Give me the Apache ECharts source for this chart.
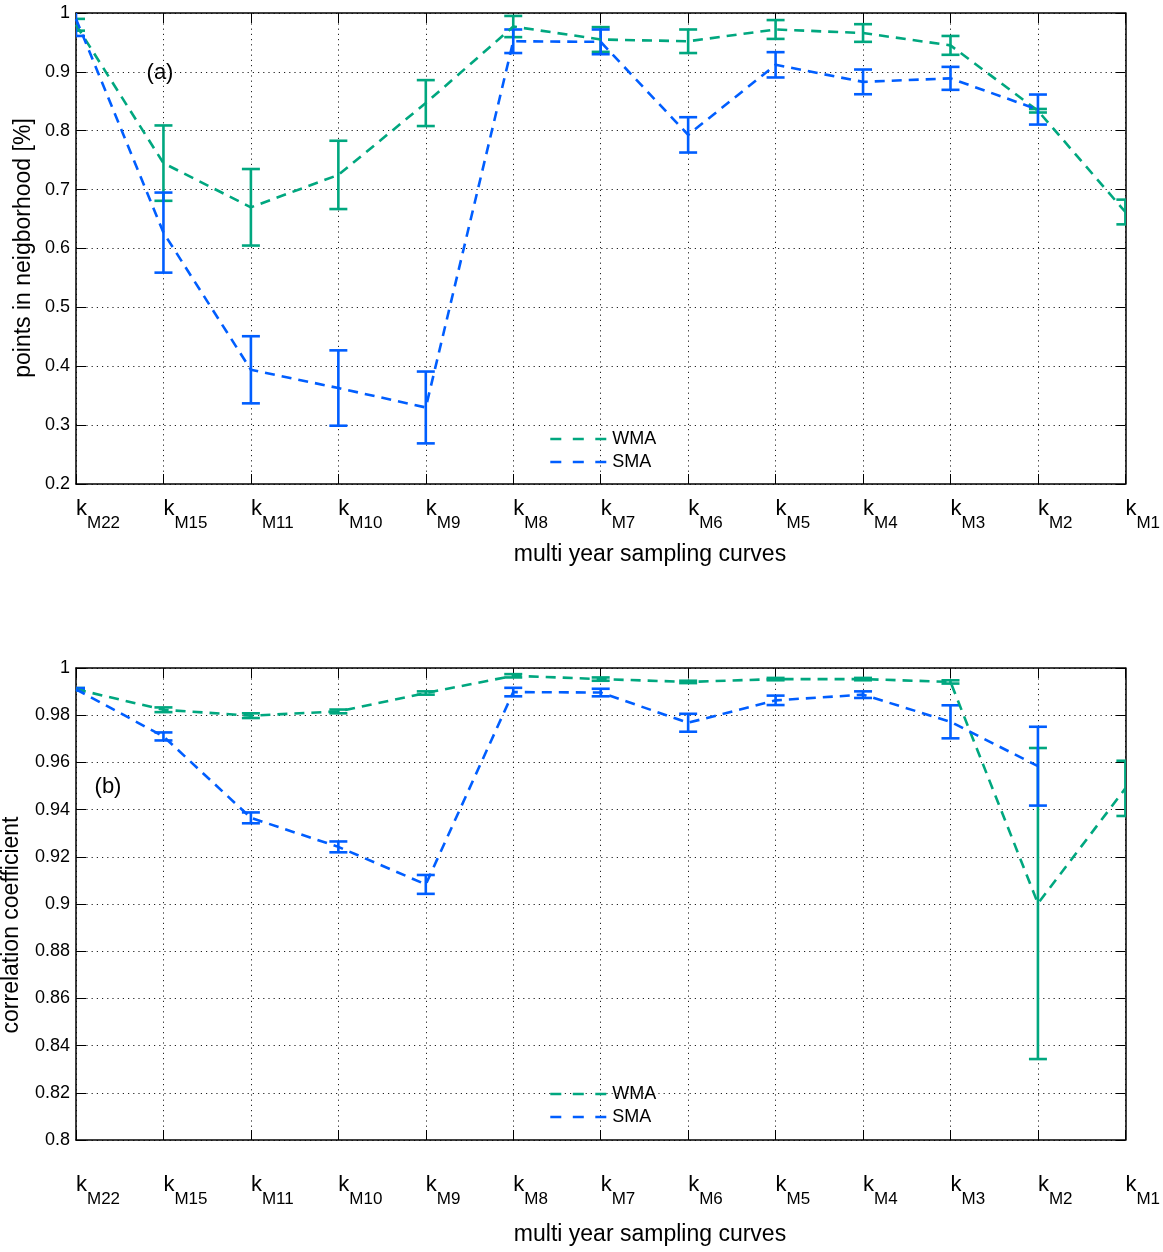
<!DOCTYPE html>
<html>
<head>
<meta charset="utf-8">
<script src="https://cdn.jsdelivr.net/npm/echarts@6/dist/echarts.min.js"></script>
<style>
  html, body { margin: 0; padding: 0; background: #fff; }
  #chart { width: 1163px; height: 1252px; }
</style>
</head>
<body>
<div id="chart"></div>
<script>
// Sampling curves along the x axis: "k" with these subscripts
const curveSubscripts = ['M22', 'M15', 'M11', 'M10', 'M9', 'M8', 'M7', 'M6', 'M5', 'M4', 'M3', 'M2', 'M1'];

// (a) share of points in neighborhood: mean and half-width of the error bar
const wmaNeighborMean = [0.980, 0.745, 0.670, 0.725, 0.847, 0.977, 0.955, 0.952, 0.972, 0.966, 0.945, 0.834, 0.662];
const wmaNeighborErr  = [0.010, 0.064, 0.065, 0.058, 0.039, 0.018, 0.021, 0.020, 0.016, 0.015, 0.016, 0.003, 0.021];
const smaNeighborMean = [0.990, 0.627, 0.394, 0.363, 0.330, 0.952, 0.951, 0.793, 0.912, 0.883, 0.889, 0.836, null];
const smaNeighborErr  = [0.029, 0.068, 0.057, 0.064, 0.061, 0.020, 0.021, 0.030, 0.0215, 0.021, 0.0195, 0.0255, null];

// (b) correlation coefficient: mean and half-width of the error bar
const wmaCorrMean = [0.991, 0.9823, 0.9798, 0.9816, 0.9894, 0.9967, 0.9953, 0.9941, 0.9953, 0.9953, 0.9941, 0.9002, 0.949];
const wmaCorrErr  = [0.0005, 0.001, 0.001, 0.0008, 0.0007, 0.0007, 0.0007, 0.0005, 0.0005, 0.0005, 0.0007, 0.0659, 0.0117];
const smaCorrMean = [0.991, 0.971, 0.9365, 0.9242, 0.9083, 0.9898, 0.9896, 0.9768, 0.9863, 0.9887, 0.9772, 0.9584, null];
const smaCorrErr  = [0.0005, 0.0017, 0.0023, 0.0023, 0.004, 0.0018, 0.0016, 0.0038, 0.002, 0.0014, 0.007, 0.0167, null];

const GREEN = '#00a77f';
const BLUE = '#005eff';
const FONT = '"Liberation Sans", Arial, Helvetica, sans-serif';

function errorBarData(mean, err) {
  const out = [];
  mean.forEach(function (m, i) {
    if (m == null) return;
    out.push([i, m - err[i], m + err[i]]);
  });
  return out;
}

function renderErrorBar(params, api) {
  const x = api.value(0);
  const lo = api.coord([x, api.value(1)]);
  const hi = api.coord([x, api.value(2)]);
  const half = 9;
  const style = { stroke: api.visual('color'), lineWidth: 2.6, fill: null };
  return {
    type: 'group',
    children: [
      { type: 'line', shape: { x1: hi[0], y1: hi[1], x2: lo[0], y2: lo[1] }, style: style },
      { type: 'line', shape: { x1: hi[0] - half, y1: hi[1], x2: hi[0] + half, y2: hi[1] }, style: style },
      { type: 'line', shape: { x1: lo[0] - half, y1: lo[1], x2: lo[0] + half, y2: lo[1] }, style: style }
    ]
  };
}

function lineSeries(name, color, data, idx) {
  return {
    name: name, type: 'line', xAxisIndex: idx, yAxisIndex: idx,
    data: data, symbol: 'none', connectNulls: false, clip: true,
    lineStyle: { color: color, width: 2.6, type: [10, 7] },
    itemStyle: { color: color }
  };
}

function barSeries(name, color, mean, err, idx) {
  return {
    name: name, type: 'custom', xAxisIndex: idx, yAxisIndex: idx,
    data: errorBarData(mean, err), renderItem: renderErrorBar, clip: true,
    encode: { x: 0, y: [1, 2] },
    itemStyle: { color: color }
  };
}

const numFmt = function (v) { return String(+v.toFixed(2)); };

function bottomXAxis(gridIndex, margin) {
  return {
    type: 'category', gridIndex: gridIndex, position: 'bottom',
    data: curveSubscripts, boundaryGap: false,
    axisLine: { lineStyle: { color: '#000', width: 1.5 } },
    axisTick: { inside: true, length: 10, alignWithLabel: true, lineStyle: { color: '#000', width: 1 } },
    axisLabel: {
      interval: 0, hideOverlap: false, margin: margin, align: 'left', color: '#000',
      formatter: function (v) { return '{k|k}{s|' + v + '}'; },
      rich: {
        k: { fontFamily: FONT, fontSize: 22, lineHeight: 22, verticalAlign: 'top', color: '#000' },
        s: { fontFamily: FONT, fontSize: 17, lineHeight: 17, verticalAlign: 'top', padding: [17, 0, 0, 0], color: '#000' }
      }
    },
    splitLine: { show: true, lineStyle: { color: '#222', width: 1, type: [1.2, 4] } }
  };
}

function topXAxis(gridIndex) {
  return {
    type: 'category', gridIndex: gridIndex, position: 'top',
    data: curveSubscripts, boundaryGap: false,
    axisLine: { lineStyle: { color: '#000', width: 1.5 } },
    axisTick: { inside: true, length: 10, lineStyle: { color: '#000', width: 1 } },
    axisLabel: { show: false }, splitLine: { show: false }
  };
}

function leftYAxis(gridIndex, min, max, interval) {
  return {
    type: 'value', gridIndex: gridIndex, position: 'left',
    min: min, max: max, interval: interval,
    axisLine: { show: true, lineStyle: { color: '#000', width: 1.5 } },
    axisTick: { show: true, inside: true, length: 10, lineStyle: { color: '#000', width: 1 } },
    axisLabel: { margin: 6, color: '#000', fontFamily: FONT, fontSize: 18, formatter: numFmt },
    splitLine: { show: true, lineStyle: { color: '#222', width: 1, type: [1.2, 4] } }
  };
}

function rightYAxis(gridIndex, min, max, interval) {
  return {
    type: 'value', gridIndex: gridIndex, position: 'right',
    min: min, max: max, interval: interval,
    axisLine: { show: true, lineStyle: { color: '#000', width: 1.5 } },
    axisTick: { show: true, inside: true, length: 10, lineStyle: { color: '#000', width: 1 } },
    axisLabel: { show: false }, splitLine: { show: false }
  };
}

function legendAt(top) {
  return {
    data: ['WMA', 'SMA'], orient: 'vertical', left: 544, top: top,
    itemWidth: 56, itemHeight: 14, itemGap: 5,
    lineStyle: { type: [11, 11.5], width: 2.6 },
    itemStyle: { opacity: 0 },
    textStyle: { fontFamily: FONT, fontSize: 18, color: '#000', padding: [0, 0, 0, 1] },
    selectedMode: false
  };
}

function label(text, x, y, size, rotation) {
  return {
    type: 'text', x: x, y: y, rotation: rotation || 0,
    style: {
      text: text, fill: '#000', font: size + 'px ' + FONT,
      textAlign: 'center', textVerticalAlign: 'middle'
    }
  };
}

const chart = echarts.init(document.getElementById('chart'), null, { renderer: 'canvas' });

chart.setOption({
  animation: false,
  backgroundColor: '#fff',
  grid: [
    { left: 76, top: 13, width: 1052, height: 471 },
    { left: 76, top: 668, width: 1052, height: 472 }
  ],
  xAxis: [bottomXAxis(0, 14), topXAxis(0), bottomXAxis(1, 34), topXAxis(1)],
  yAxis: [
    leftYAxis(0, 0.2, 1, 0.1), rightYAxis(0, 0.2, 1, 0.1),
    leftYAxis(1, 0.8, 1, 0.02), rightYAxis(1, 0.8, 1, 0.02)
  ],
  legend: [legendAt(425), legendAt(1080)],
  graphic: [
    label('(a)', 160, 73, 22),
    label('(b)', 108, 787, 22),
    label('multi year sampling curves', 650, 555, 23),
    label('multi year sampling curves', 650, 1235, 23),
    label('points in neigborhood [%]', 24, 248, 23, Math.PI / 2),
    label('correlation coefficient', 12, 925, 23, Math.PI / 2)
  ],
  series: [
    lineSeries('WMA', GREEN, wmaNeighborMean, 0),
    barSeries('WMA', GREEN, wmaNeighborMean, wmaNeighborErr, 0),
    lineSeries('SMA', BLUE, smaNeighborMean, 0),
    barSeries('SMA', BLUE, smaNeighborMean, smaNeighborErr, 0),
    lineSeries('WMA', GREEN, wmaCorrMean, 2),
    barSeries('WMA', GREEN, wmaCorrMean, wmaCorrErr, 2),
    lineSeries('SMA', BLUE, smaCorrMean, 2),
    barSeries('SMA', BLUE, smaCorrMean, smaCorrErr, 2)
  ]
});
</script>
</body>
</html>
